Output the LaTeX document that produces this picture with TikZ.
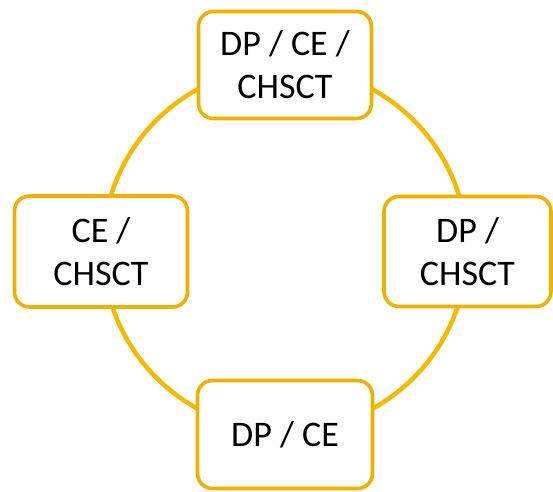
\documentclass[tikz,border=0pt]{standalone}
\usepackage{fontspec}
\setmainfont{Carlito}
\definecolor{ringcol}{HTML}{F5BA00}
\definecolor{boxcol}{HTML}{EDB100}
\begin{document}
\begin{tikzpicture}[x=1pt,y=-1pt,
  box/.style={draw=boxcol,line width=3.6pt,fill=white,rounded corners=15pt,
    minimum width=#1,align=center,font=\fontsize{36}{43}\selectfont,inner sep=0pt},
  ]
\useasboundingbox (0,0) rectangle (553,491);
\draw[ringcol,line width=4.5pt] (285,249) circle [radius=182];
\node[box=173pt,minimum height=107pt] (top) at (285,65) {DP / CE /\\CHSCT};
\node[box=173pt,minimum height=111pt] (left) at (101,251.5) {CE /\\CHSCT};
\node[box=167pt,minimum height=110pt] (right) at (467.5,251.5) {DP /\\CHSCT};
\node[box=175pt,minimum height=108pt] (bottom) at (285,434.5) {DP / CE};
\end{tikzpicture}
\end{document}
